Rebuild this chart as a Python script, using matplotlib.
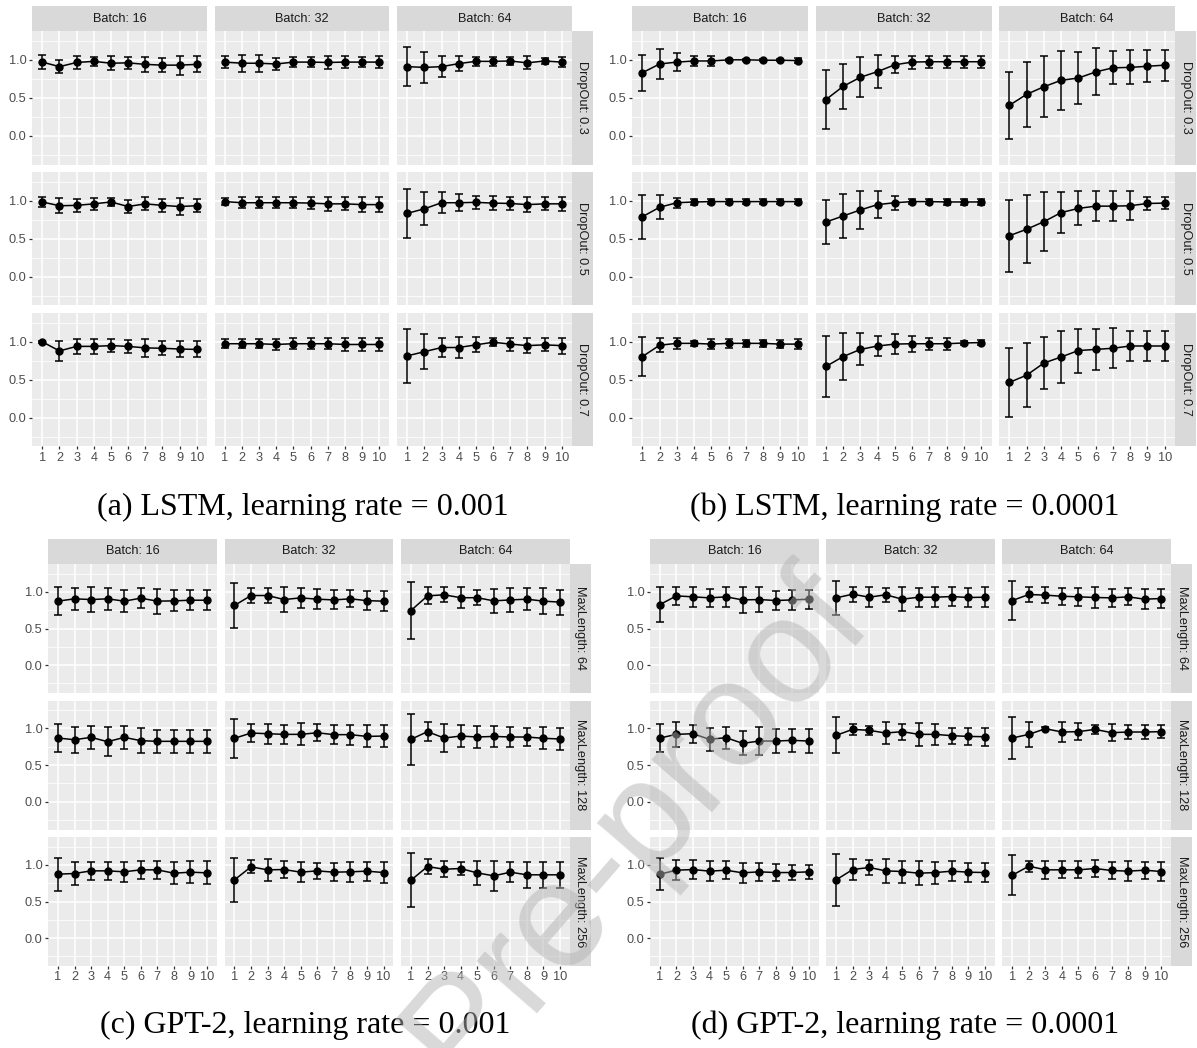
import matplotlib
matplotlib.use('Agg')
import matplotlib.pyplot as plt

W, H = 1197, 1048

epochs = [1, 2, 3, 4, 5, 6, 7, 8, 9, 10]
batch_labels = ['Batch: 16', 'Batch: 32', 'Batch: 64']
dropout_labels = ['DropOut: 0.3', 'DropOut: 0.5', 'DropOut: 0.7']
maxlen_labels = ['MaxLength: 64', 'MaxLength: 128', 'MaxLength: 256']

# (a) LSTM, lr 0.001 -- facets in row order (DropOut 0.3/0.5/0.7), batch 16/32/64 per row
lstm_a_mean = [
    [0.97, 0.91, 0.965, 0.98, 0.955, 0.96, 0.94, 0.93, 0.93, 0.94],
    [0.97, 0.955, 0.955, 0.945, 0.97, 0.97, 0.965, 0.97, 0.97, 0.97],
    [0.91, 0.90, 0.91, 0.95, 0.98, 0.98, 0.985, 0.96, 0.985, 0.97],
    [0.985, 0.935, 0.94, 0.96, 0.985, 0.925, 0.96, 0.94, 0.925, 0.935],
    [0.99, 0.975, 0.975, 0.975, 0.975, 0.97, 0.96, 0.96, 0.95, 0.95],
    [0.835, 0.895, 0.975, 0.975, 0.98, 0.97, 0.965, 0.95, 0.96, 0.96],
    [1.0, 0.88, 0.94, 0.94, 0.95, 0.94, 0.92, 0.915, 0.905, 0.9],
    [0.975, 0.975, 0.975, 0.965, 0.975, 0.975, 0.975, 0.965, 0.965, 0.965],
    [0.815, 0.87, 0.925, 0.925, 0.96, 0.995, 0.97, 0.95, 0.96, 0.95],
]
lstm_a_err = [
    [0.095, 0.09, 0.08, 0.06, 0.09, 0.075, 0.1, 0.095, 0.125, 0.105],
    [0.08, 0.11, 0.11, 0.085, 0.07, 0.07, 0.08, 0.075, 0.07, 0.075],
    [0.26, 0.205, 0.135, 0.095, 0.06, 0.06, 0.05, 0.085, 0.04, 0.07],
    [0.07, 0.1, 0.085, 0.075, 0.05, 0.09, 0.085, 0.085, 0.115, 0.085],
    [0.045, 0.075, 0.075, 0.07, 0.075, 0.08, 0.095, 0.085, 0.095, 0.095],
    [0.32, 0.22, 0.135, 0.115, 0.09, 0.09, 0.09, 0.1, 0.085, 0.09],
    [0.01, 0.13, 0.1, 0.1, 0.09, 0.09, 0.115, 0.095, 0.11, 0.105],
    [0.06, 0.06, 0.06, 0.07, 0.07, 0.07, 0.07, 0.09, 0.09, 0.09],
    [0.36, 0.23, 0.13, 0.135, 0.1, 0.05, 0.085, 0.095, 0.085, 0.105],
]

# (b) LSTM, lr 0.0001
lstm_b_mean = [
    [0.83, 0.945, 0.97, 0.985, 0.985, 1.0, 1.0, 0.995, 0.995, 0.99],
    [0.475, 0.65, 0.77, 0.845, 0.935, 0.97, 0.975, 0.975, 0.975, 0.975],
    [0.40, 0.545, 0.645, 0.73, 0.76, 0.84, 0.895, 0.9, 0.915, 0.93],
    [0.79, 0.915, 0.975, 0.985, 0.99, 0.99, 0.99, 0.99, 0.99, 0.99],
    [0.72, 0.8, 0.88, 0.95, 0.975, 0.99, 0.99, 0.985, 0.985, 0.985],
    [0.54, 0.625, 0.725, 0.845, 0.9, 0.93, 0.93, 0.935, 0.965, 0.97],
    [0.805, 0.955, 0.98, 0.98, 0.97, 0.98, 0.98, 0.98, 0.97, 0.97],
    [0.675, 0.805, 0.9, 0.945, 0.97, 0.975, 0.975, 0.975, 0.985, 0.99],
    [0.465, 0.56, 0.72, 0.8, 0.885, 0.9, 0.915, 0.945, 0.945, 0.945],
]
lstm_b_err = [
    [0.24, 0.2, 0.115, 0.07, 0.07, 0.01, 0.01, 0.015, 0.015, 0.03],
    [0.385, 0.3, 0.265, 0.22, 0.115, 0.085, 0.08, 0.08, 0.08, 0.08],
    [0.44, 0.43, 0.405, 0.385, 0.34, 0.31, 0.215, 0.225, 0.21, 0.205],
    [0.29, 0.16, 0.065, 0.04, 0.03, 0.03, 0.03, 0.03, 0.03, 0.03],
    [0.285, 0.285, 0.25, 0.175, 0.09, 0.03, 0.03, 0.04, 0.04, 0.04],
    [0.475, 0.45, 0.385, 0.27, 0.225, 0.2, 0.195, 0.19, 0.085, 0.075],
    [0.26, 0.09, 0.07, 0.035, 0.07, 0.06, 0.045, 0.045, 0.055, 0.065],
    [0.4, 0.31, 0.21, 0.135, 0.135, 0.105, 0.08, 0.08, 0.03, 0.03],
    [0.46, 0.425, 0.34, 0.345, 0.29, 0.27, 0.265, 0.195, 0.195, 0.195],
]

# (c) GPT-2, lr 0.001 -- rows MaxLength 64/128/256
gpt_c_mean = [
    [0.873, 0.905, 0.895, 0.905, 0.873, 0.914, 0.873, 0.877, 0.886, 0.886],
    [0.814, 0.95, 0.95, 0.895, 0.918, 0.9, 0.89, 0.905, 0.88, 0.873],
    [0.745, 0.945, 0.96, 0.92, 0.92, 0.877, 0.89, 0.9, 0.873, 0.86],
    [0.868, 0.845, 0.877, 0.818, 0.877, 0.832, 0.823, 0.823, 0.823, 0.823],
    [0.864, 0.936, 0.927, 0.918, 0.918, 0.94, 0.914, 0.914, 0.89, 0.895],
    [0.85, 0.955, 0.868, 0.895, 0.882, 0.89, 0.882, 0.882, 0.864, 0.855],
    [0.873, 0.882, 0.918, 0.918, 0.905, 0.932, 0.932, 0.886, 0.9, 0.891],
    [0.795, 0.973, 0.932, 0.936, 0.9, 0.918, 0.9, 0.905, 0.914, 0.895],
    [0.79, 0.977, 0.94, 0.95, 0.89, 0.85, 0.9, 0.864, 0.864, 0.864],
]
gpt_c_err = [
    [0.195, 0.15, 0.165, 0.15, 0.15, 0.14, 0.17, 0.145, 0.14, 0.14],
    [0.31, 0.1, 0.1, 0.175, 0.14, 0.135, 0.13, 0.115, 0.125, 0.135],
    [0.39, 0.115, 0.105, 0.14, 0.105, 0.165, 0.165, 0.15, 0.175, 0.17],
    [0.19, 0.18, 0.155, 0.195, 0.155, 0.175, 0.155, 0.155, 0.155, 0.155],
    [0.265, 0.125, 0.135, 0.125, 0.15, 0.115, 0.13, 0.135, 0.15, 0.15],
    [0.35, 0.13, 0.19, 0.15, 0.15, 0.14, 0.14, 0.125, 0.15, 0.15],
    [0.225, 0.155, 0.125, 0.125, 0.135, 0.125, 0.125, 0.15, 0.15, 0.155],
    [0.3, 0.09, 0.15, 0.12, 0.135, 0.11, 0.125, 0.14, 0.13, 0.145],
    [0.365, 0.1, 0.11, 0.095, 0.165, 0.2, 0.14, 0.175, 0.175, 0.175],
]

# (d) GPT-2, lr 0.0001
gpt_d_mean = [
    [0.827, 0.945, 0.932, 0.918, 0.932, 0.89, 0.895, 0.882, 0.89, 0.9],
    [0.918, 0.968, 0.927, 0.96, 0.9, 0.927, 0.927, 0.936, 0.923, 0.927],
    [0.882, 0.964, 0.955, 0.94, 0.932, 0.923, 0.918, 0.932, 0.9, 0.909],
    [0.868, 0.918, 0.927, 0.85, 0.873, 0.795, 0.827, 0.827, 0.836, 0.827],
    [0.905, 0.986, 0.973, 0.936, 0.955, 0.918, 0.918, 0.9, 0.89, 0.886],
    [0.868, 0.918, 0.995, 0.95, 0.955, 0.986, 0.941, 0.95, 0.95, 0.955],
    [0.873, 0.927, 0.936, 0.914, 0.927, 0.891, 0.905, 0.895, 0.895, 0.905],
    [0.795, 0.936, 0.964, 0.918, 0.909, 0.886, 0.895, 0.914, 0.9, 0.895],
    [0.859, 0.982, 0.932, 0.932, 0.932, 0.95, 0.923, 0.914, 0.927, 0.909],
]
gpt_d_err = [
    [0.235, 0.125, 0.135, 0.125, 0.135, 0.175, 0.165, 0.135, 0.135, 0.13],
    [0.235, 0.105, 0.14, 0.095, 0.165, 0.13, 0.135, 0.135, 0.13, 0.135],
    [0.26, 0.1, 0.11, 0.115, 0.12, 0.14, 0.12, 0.115, 0.14, 0.125],
    [0.185, 0.17, 0.125, 0.155, 0.15, 0.165, 0.185, 0.16, 0.155, 0.16],
    [0.245, 0.07, 0.065, 0.145, 0.11, 0.155, 0.14, 0.11, 0.12, 0.12],
    [0.285, 0.17, 0.02, 0.13, 0.115, 0.06, 0.115, 0.1, 0.1, 0.085],
    [0.215, 0.14, 0.125, 0.135, 0.12, 0.135, 0.125, 0.115, 0.105, 0.095],
    [0.35, 0.14, 0.1, 0.16, 0.15, 0.165, 0.15, 0.14, 0.13, 0.13],
    [0.27, 0.075, 0.12, 0.115, 0.115, 0.11, 0.11, 0.14, 0.115, 0.13],
]

SANS = 'Liberation Sans'
PANEL_BG = '#EBEBEB'
STRIP_BG = '#D9D9D9'

fig = plt.figure(figsize=(W / 100, H / 100), dpi=100)


def px_box(left, top, width, height):
    # pixel box (from top-left) -> figure fraction
    return [left / W, 1 - (top + height) / H, width / W, height / H]


def add_strip(left, top, width, height, label, rotation):
    sax = fig.add_axes(px_box(left, top, width, height))
    sax.set_facecolor(STRIP_BG)
    sax.set_xticks([])
    sax.set_yticks([])
    for s in sax.spines.values():
        s.set_visible(False)
    sax.text(0.5, 0.5, label, transform=sax.transAxes, ha='center', va='center',
             rotation=rotation, fontsize=9.2, color='#1A1A1A', family=SANS)


def facet_grid(left, top, facet_w, facet_h, gap, means, errs, row_labels,
               strip_h=25, strip_w=21):
    for r in range(3):
        for c in range(3):
            x0 = left + c * (facet_w + gap)
            y0 = top + strip_h + r * (facet_h + gap)
            ax = fig.add_axes(px_box(x0, y0, facet_w, facet_h))
            ax.set_facecolor(PANEL_BG)
            for s in ax.spines.values():
                s.set_visible(False)
            ax.set_xlim(0.4, 10.6)
            ax.set_ylim(-0.38, 1.38)
            ax.set_xticks(epochs)
            ax.set_xticklabels([str(e) for e in epochs])
            ax.set_yticks([0.0, 0.5, 1.0])
            ax.set_yticklabels(['0.0', '0.5', '1.0'])
            ax.set_yticks([-0.25, 0.25, 0.75, 1.25], minor=True)
            ax.grid(which='major', color='white', lw=1.1)
            ax.grid(which='minor', axis='y', color='white', lw=0.55)
            ax.set_axisbelow(True)
            ax.tick_params(which='major', length=2.4, width=0.9, color='#333333',
                           labelcolor='#4D4D4D', labelsize=9.2, pad=1.5)
            ax.tick_params(which='minor', length=0)
            for lab in ax.get_xticklabels() + ax.get_yticklabels():
                lab.set_family(SANS)
            ax.tick_params(axis='y', left=(c == 0), labelleft=(c == 0))
            ax.tick_params(axis='x', bottom=(r == 2), labelbottom=(r == 2))

            k = r * 3 + c
            ax.errorbar(epochs, means[k], yerr=errs[k], fmt='-o', color='black',
                        ms=5, lw=1.1, elinewidth=1.1, capsize=3, capthick=1.1)

            if r == 0:
                add_strip(x0, top, facet_w, strip_h, batch_labels[c], 0)
            if c == 2:
                add_strip(x0 + facet_w, y0, strip_w, facet_h, row_labels[r], -90)


facet_grid(32, 6, 175, 133.5, 7.5, lstm_a_mean, lstm_a_err, dropout_labels)
facet_grid(632, 6, 176, 133.5, 7.5, lstm_b_mean, lstm_b_err, dropout_labels)
facet_grid(48, 539, 169, 129, 7.5, gpt_c_mean, gpt_c_err, maxlen_labels)
facet_grid(650, 539, 168.7, 129, 7.5, gpt_d_mean, gpt_d_err, maxlen_labels)

captions = [
    (303, 515, '(a) LSTM, learning rate = 0.001'),
    (905, 515, '(b) LSTM, learning rate = 0.0001'),
    (305, 1033, '(c) GPT-2, learning rate = 0.001'),
    (905, 1033, '(d) GPT-2, learning rate = 0.0001'),
]
for cx, cy, text in captions:
    fig.text(cx / W, 1 - cy / H, text, ha='center', va='baseline',
             fontsize=23, family='Liberation Serif', color='black')

# journal watermark across the lower half
fig.text(875 / W, 1 - 625 / H, 'Journal Pre-proof', rotation=49, rotation_mode='anchor',
         ha='right', va='baseline', fontsize=108, family=SANS,
         color='#b3b3b3', alpha=0.5, zorder=50)

fig.savefig('out.png', dpi=100)
